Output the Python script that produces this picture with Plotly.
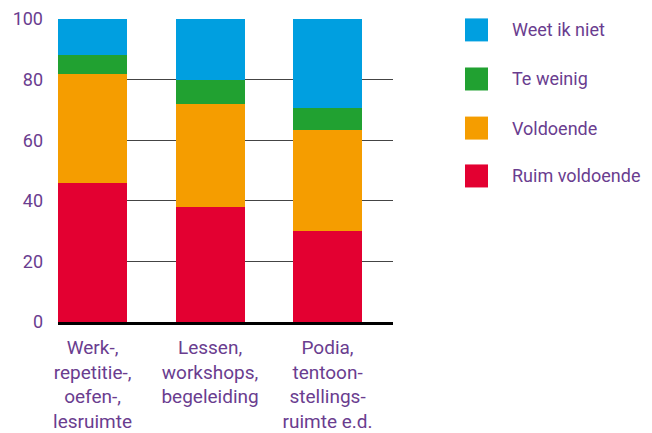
import plotly.graph_objects as go

categories = [
    "Werk-,<br>repetitie-,<br>oefen-,<br>lesruimte",
    "Lessen,<br>workshops,<br>begeleiding",
    "Podia,<br>tentoon-<br>stellings-<br>ruimte e.d.",
]
series = ["Ruim voldoende", "Voldoende", "Te weinig", "Weet ik niet"]
ruim_voldoende = [46, 38, 30]
voldoende = [36, 34, 33.5]
te_weinig = [6, 8, 7]
weet_ik_niet = [12, 20, 29.5]
y_ticks = [0, 20, 40, 60, 80, 100]

colors = ["#e30031", "#f59d00", "#21a131", "#009fe0"]
purple = "#6a3d8f"
font_family = "Roboto, 'Open Sans', sans-serif"

fig = go.Figure()
for name, vals, col in zip(series, [ruim_voldoende, voldoende, te_weinig, weet_ik_niet], colors):
    fig.add_trace(go.Bar(
        x=list(range(len(categories))),
        y=vals,
        name=name,
        marker=dict(color=col, line=dict(width=0)),
        showlegend=False,
    ))

# legend drawn by hand so the swatches can be as big as in the original
plot_w, plot_h = 335, 303
legend_y = [0.964, 0.802, 0.640, 0.482]
for name, col, ly in zip(series[::-1], colors[::-1], legend_y):
    fig.add_shape(
        type="rect", xref="paper", yref="paper",
        x0=1.215, x1=1.215 + 23 / plot_w,
        y0=ly - 11.5 / plot_h, y1=ly + 11.5 / plot_h,
        fillcolor=col, line=dict(width=0),
    )
    fig.add_annotation(
        x=1.215 + 45 / plot_w, y=ly, xref="paper", yref="paper",
        text=name, showarrow=False, xanchor="left", yanchor="middle",
        font=dict(size=18, color=purple, family=font_family),
    )

# page body adds an 8px offset, margins are shifted to compensate
fig.update_layout(
    barmode="stack",
    bargap=0.413,
    width=652,
    height=433,
    margin=dict(l=50, r=267, t=11, b=119, autoexpand=False),
    plot_bgcolor="white",
    paper_bgcolor="white",
    font=dict(family=font_family, color=purple, size=18),
    xaxis=dict(
        tickmode="array",
        tickvals=list(range(len(categories))),
        ticktext=categories,
        range=[-0.294, 2.557],
        showgrid=False,
        showline=True,
        linecolor="black",
        linewidth=3,
        ticks="",
        ticklabelstandoff=6,
        tickfont=dict(size=19, color=purple),
        automargin=False,
        fixedrange=True,
    ),
    yaxis=dict(
        range=[0, 100],
        tickmode="array",
        tickvals=y_ticks,
        showgrid=True,
        gridcolor="#444444",
        gridwidth=1,
        zeroline=False,
        ticks="",
        ticklabelstandoff=14,
        tickfont=dict(size=18, color=purple),
        automargin=False,
        fixedrange=True,
    ),
)

fig.write_html("out.html")
